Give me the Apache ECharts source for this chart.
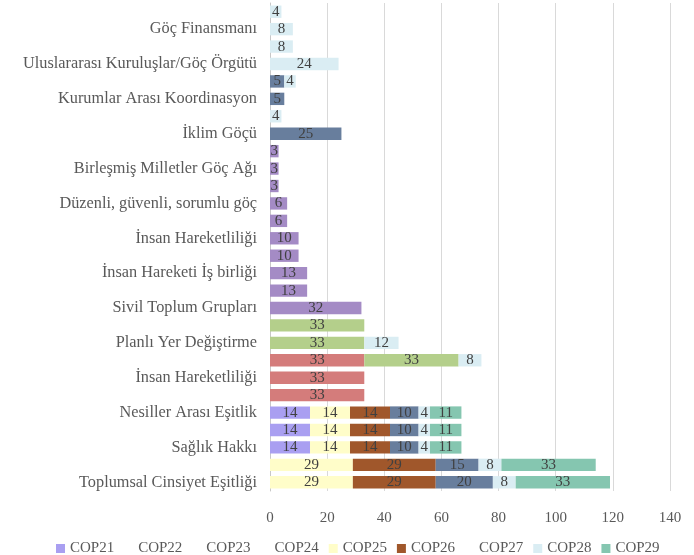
<!DOCTYPE html>
<html>
<head>
<meta charset="utf-8">
<script src="https://cdn.jsdelivr.net/npm/echarts@6/dist/echarts.min.js"></script>
<style>html,body{margin:0;padding:0;background:#fff;}#c{width:694px;height:555px;}</style>
</head>
<body>
<div id="c"></div>
<script>
// Rows from top to bottom; '' = unlabeled row
const rowLabels = ['', 'Göç Finansmanı', '', 'Uluslararası Kuruluşlar/Göç Örgütü', '', 'Kurumlar Arası Koordinasyon', '', 'İklim Göçü', '', 'Birleşmiş Milletler Göç Ağı', '', 'Düzenli, güvenli, sorumlu göç', '', 'İnsan Hareketliliği', '', 'İnsan Hareketi İş birliği', '', 'Sivil Toplum Grupları', '', 'Planlı Yer Değiştirme', '', 'İnsan Hareketliliği', '', 'Nesiller Arası Eşitlik', '', 'Sağlık Hakkı', '', 'Toplumsal Cinsiyet Eşitliği'];
const seriesNames = ['COP21', 'COP22', 'COP23', 'COP24', 'COP25', 'COP26', 'COP27', 'COP28', 'COP29'];
const xTicks = [0, 20, 40, 60, 80, 100, 120, 140];
const cop21 = [null,null,null,null,null,null,null,null,null,null,null,null,null,null,null,null,null,null,null,null,null,null,null,14,14,14,null,null];
const cop22 = [null,null,null,null,null,null,null,null,3,3,3,6,6,10,10,13,13,32,null,null,null,null,null,null,null,null,null,null];
const cop23 = [null,null,null,null,null,null,null,null,null,null,null,null,null,null,null,null,null,null,null,null,33,33,33,null,null,null,null,null];
const cop24 = [null,null,null,null,null,null,null,null,null,null,null,null,null,null,null,null,null,null,33,33,33,null,null,null,null,null,null,null];
const cop25 = [null,null,null,null,null,null,null,null,null,null,null,null,null,null,null,null,null,null,null,null,null,null,null,14,14,14,29,29];
const cop26 = [null,null,null,null,null,null,null,null,null,null,null,null,null,null,null,null,null,null,null,null,null,null,null,14,14,14,29,29];
const cop27 = [null,null,null,null,5,5,null,25,null,null,null,null,null,null,null,null,null,null,null,null,null,null,null,10,10,10,15,20];
const cop28 = [4,8,8,24,4,null,4,null,null,null,null,null,null,null,null,null,null,null,null,12,8,null,null,4,4,4,8,8];
const cop29 = [null,null,null,null,null,null,null,null,null,null,null,null,null,null,null,null,null,null,null,null,null,null,null,11,11,11,33,33];

const allData = [cop21, cop22, cop23, cop24, cop25, cop26, cop27, cop28, cop29];
const colors = ['#a99ff1', '#a48bc5', '#d47c7b', '#b4cf8b', '#fffdc9', '#a0572b', '#687e9d', '#daedf3', '#85c6b0'];
const legendHidden = { COP22: true, COP23: true, COP24: true, COP27: true };
const FONT = 'Liberation Serif';

const chart = echarts.init(document.getElementById('c'));
chart.setOption({
  animation: false,
  backgroundColor: '#fff',
  textStyle: { fontFamily: FONT },
  grid: { left: 270, right: 24, top: 3, bottom: 64, containLabel: false, outerBoundsMode: 'none' },
  legend: {
    top: 536,
    left: 51,
    itemWidth: 9,
    itemHeight: 9,
    itemGap: 10,
    textStyle: { fontFamily: FONT, fontSize: 15, color: '#595959' },
    data: seriesNames.map(n => legendHidden[n] ? { name: n, icon: 'none' } : { name: n, icon: 'rect' })
  },
  xAxis: {
    type: 'value',
    min: 0, max: 140, interval: 20,
    axisLine: { show: false },
    axisTick: { show: false },
    splitLine: { lineStyle: { color: '#d9d9d9' } },
    axisLabel: { fontFamily: FONT, fontSize: 15, color: '#595959', margin: 20,
      formatter: v => xTicks.indexOf(v) >= 0 ? String(v) : '' }
  },
  yAxis: {
    type: 'category',
    inverse: true,
    data: rowLabels.map((l, i) => 'r' + i),
    axisLine: { lineStyle: { color: '#c8c8c8' } },
    axisTick: { show: false },
    axisLabel: { interval: 0, margin: 13, fontFamily: FONT, fontSize: 16.3, color: '#595959',
      formatter: (v, i) => rowLabels[i] }
  },
  series: seriesNames.map((n, k) => ({
    name: n,
    type: 'bar',
    stack: 'all',
    barCategoryGap: '29%',
    data: allData[k],
    itemStyle: { color: colors[k] },
    label: { show: true, position: 'inside', fontFamily: FONT, fontSize: 15, color: '#404040',
      formatter: p => p.value == null ? '' : String(p.value) }
  }))
});
</script>
</body>
</html>
